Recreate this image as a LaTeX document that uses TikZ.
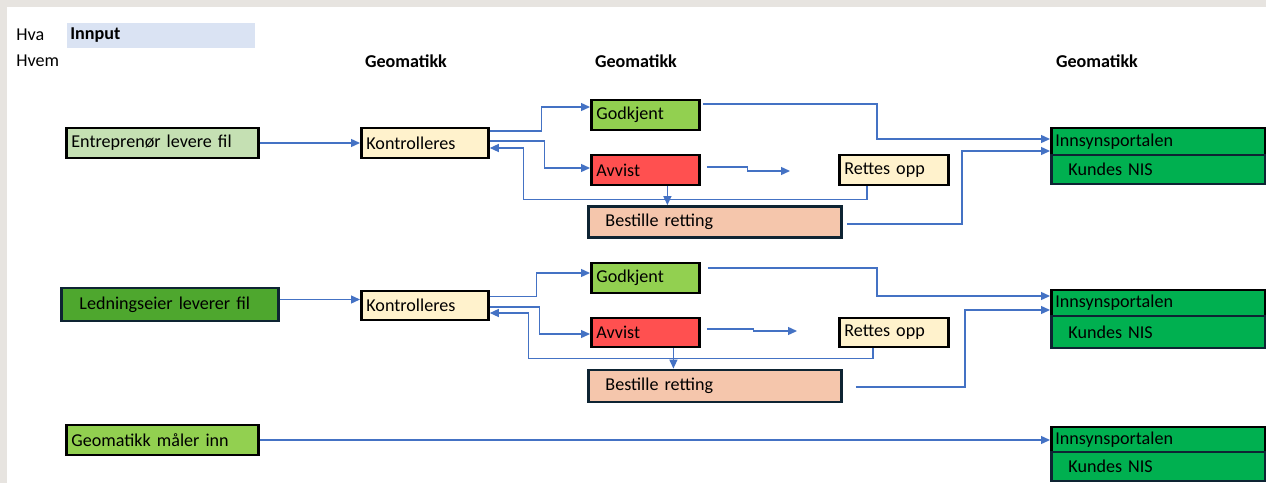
\documentclass[tikz,border=0pt]{standalone}
\usepackage{fontspec}
\setmainfont{Carlito}
\usetikzlibrary{arrows.meta}
\usetikzlibrary{calc}
\usepackage{xcolor}

\definecolor{framegrey}{HTML}{E7E4E0}
\definecolor{innputblue}{HTML}{DAE3F3}
\definecolor{flowblue}{HTML}{4472C4}
\definecolor{navy}{HTML}{0E2433}
\definecolor{lightgreen}{HTML}{C5E0B3}
\definecolor{midgreen}{HTML}{4EA72E}
\definecolor{limegreen}{HTML}{92D050}
\definecolor{portalgreen}{HTML}{00B050}
\definecolor{paleyellow}{HTML}{FFF2CC}
\definecolor{rejectred}{HTML}{FF5050}
\definecolor{peach}{HTML}{F5C6AC}

\tikzset{
  box/.style={draw=black, line width=1.6pt, anchor=west, align=left, inner ysep=0pt, inner xsep=0.1cm},
  flow/.style={draw=flowblue, line width=0.75pt, -{Triangle[length=0.18cm, width=0.16cm]}},
  head/.style={font=\fontsize{10.3}{12}\selectfont\bfseries}
}

\begin{document}
\begin{tikzpicture}[x=0.02cm, y=-0.02cm, font=\fontsize{10.3}{12}\selectfont]
\useasboundingbox (0,0) rectangle (1266,483);
\fill[white] (0,0) rectangle (1266,483);

% frame
\fill[framegrey] (0,0) rectangle (1266,7);
\fill[framegrey] (0,0) rectangle (7,483);

% headers
\fill[innputblue] (67,23) rectangle (255,48);
\node[anchor=west, inner sep=0pt] (hva) at (16,35) {Hva};
\node[anchor=west, inner sep=0pt] (hvem) at (16,61) {Hvem};
\node[head, anchor=west, inner sep=0pt] (innput) at (70,35) {Innput};
\node[head] (geo1) at (406,61) {Geomatikk};
\node[head] (geo2) at (636,61) {Geomatikk};
\node[head] (geo3) at (1097,61) {Geomatikk};

% row 1
\node[box, fill=lightgreen, text width=3.64cm, minimum height=0.6cm] (ent1) at (65,143) {Entreprenør levere fil};
\node[box, fill=paleyellow, text width=2.34cm, minimum height=0.6cm] (kon1) at (360,143) {Kontrolleres};
\node[box, fill=limegreen, text width=1.96cm, minimum height=0.6cm] (god1) at (590,115) {Godkjent};
\node[box, fill=rejectred, text width=1.96cm, minimum height=0.6cm] (avv1) at (590,170) {Avvist};
\node[box, fill=paleyellow, text width=1.98cm, minimum height=0.6cm] (ret1) at (838,170) {Rettes opp};
\node[box, draw=navy, fill=peach, inner xsep=0.34cm, text width=4.38cm, minimum height=0.62cm] (bes1) at (587,222) {Bestille retting};
\node[box, fill=portalgreen, inner xsep=0.08cm, text width=4.12cm, minimum height=0.54cm] (inn1) at (1050,141.5) {Innsynsportalen};
\node[box, draw=navy, fill=portalgreen, inner xsep=0.34cm, text width=3.6cm, minimum height=0.58cm] (nis1) at (1050,169.5) {Kundes NIS};

\coordinate (a1) at ($(avv1.south)+(22,0)$);
\coordinate (end1) at (790,171);

\draw[flow] (ent1.east) -- (kon1.west);
\draw[flow] ($(kon1.east)+(0,-12)$) -- ++(52,0) |- ($(god1.west)+(0,-8)$);
\draw[flow] ($(kon1.east)+(0,-2)$) -- ++(55,0) |- ($(avv1.west)+(0,-2)$);
\draw[flow] ($(ret1.south west)+(29,0)$) -- ++(0,13) -| ($(kon1.east)+(34,5)$) -- ($(kon1.east)+(0,5)$);
\draw[flow] (a1) -- (a1 |- bes1.north);
\draw[flow] ($(avv1.east)+(6,-3)$) -- ++(41,0) |- (end1);
\draw[flow] ($(god1.east)+(2,-11)$) -| ($(inn1.west)+(-173,-2.5)$) -- ($(inn1.west)+(0,-2.5)$);
\draw[flow] ($(bes1.east)+(4,2)$) -| ($(inn1.west)+(-88,9.5)$) -- ($(inn1.west)+(0,9.5)$);

% row 2
\node[box, draw=navy, fill=midgreen, inner xsep=0.36cm, text width=3.62cm, minimum height=0.66cm] (led2) at (60,304.5) {Ledningseier leverer fil};
\node[box, fill=paleyellow, text width=2.34cm, minimum height=0.58cm] (kon2) at (360,305.5) {Kontrolleres};
\node[box, fill=limegreen, text width=1.96cm, minimum height=0.6cm] (god2) at (590,278) {Godkjent};
\node[box, fill=rejectred, text width=1.96cm, minimum height=0.58cm] (avv2) at (590,332.5) {Avvist};
\node[box, fill=paleyellow, text width=1.98cm, minimum height=0.58cm] (ret2) at (838,332.5) {Rettes opp};
\node[box, draw=navy, fill=peach, inner xsep=0.34cm, text width=4.38cm, minimum height=0.64cm] (bes2) at (587,386) {Bestille retting};
\node[box, fill=portalgreen, inner xsep=0.08cm, text width=4.12cm, minimum height=0.52cm] (inn2) at (1050,303) {Innsynsportalen};
\node[box, draw=navy, fill=portalgreen, inner xsep=0.34cm, text width=3.6cm, minimum height=0.64cm] (nis2) at (1050,332) {Kundes NIS};

\coordinate (a2) at ($(avv2.south)+(28,0)$);
\coordinate (end2) at (797,331);
\coordinate (k2in) at ($(kon2.west)+(0,-6)$);

\draw[flow] (led2.east |- k2in) -- (k2in);
\draw[flow] ($(kon2.east)+(0,-9)$) -- ++(47,0) |- ($(god2.west)+(0,-5)$);
\draw[flow] ($(kon2.east)+(0,1.5)$) -- ++(50,0) |- ($(avv2.west)+(0,1.5)$);
\draw[flow] ($(ret2.south west)+(35,0)$) -- ++(0,10) -| ($(kon2.east)+(39,7.5)$) -- ($(kon2.east)+(0,7.5)$);
\draw[flow] (a2) -- (a2 |- bes2.north);
\draw[flow] ($(avv2.east)+(6,-3.5)$) -- ++(47,0) |- (end2);
\draw[flow] ($(god2.east)+(7,-10)$) -| ($(inn2.west)+(-173,-7)$) -- ($(inn2.west)+(0,-7)$);
\draw[flow] ($(bes2.east)+(13,1)$) -| ($(inn2.west)+(-85,7)$) -- ($(inn2.west)+(0,7)$);

% row 3
\node[box, fill=limegreen, text width=3.64cm, minimum height=0.6cm] (geo3in) at (65,440) {Geomatikk måler inn};
\node[box, fill=portalgreen, inner xsep=0.08cm, text width=4.12cm, minimum height=0.5cm] (inn3) at (1050,439.5) {Innsynsportalen};
\node[box, draw=navy, fill=portalgreen, inner xsep=0.34cm, text width=3.6cm, minimum height=0.58cm] (nis3) at (1050,466.5) {Kundes NIS};

\draw[flow] (geo3in.east) -- (geo3in.east -| inn3.west);
\end{tikzpicture}
\end{document}
